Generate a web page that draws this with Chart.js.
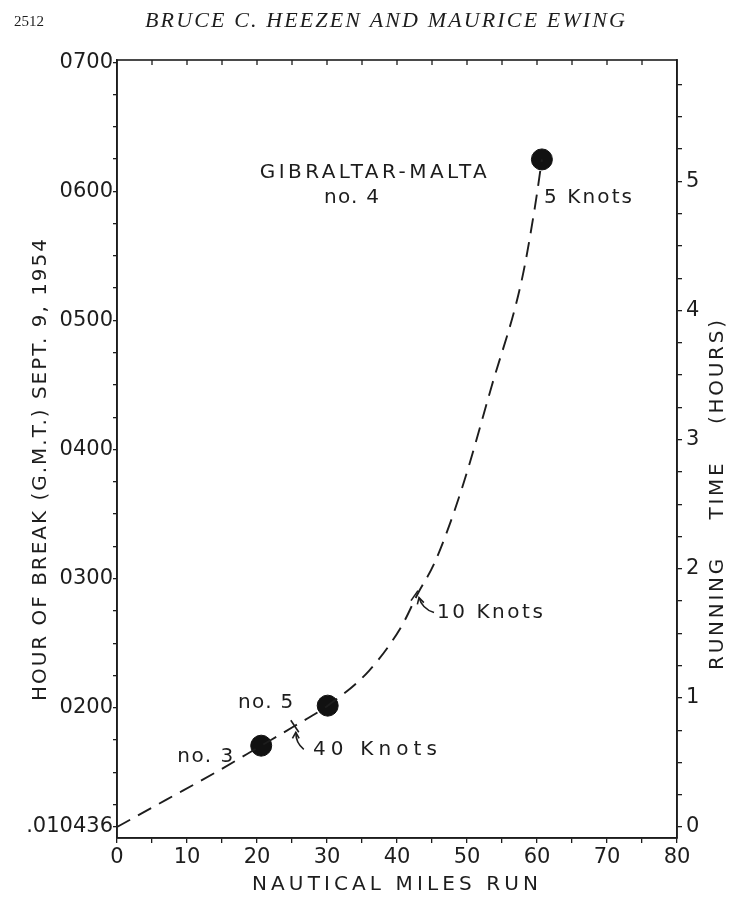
<!DOCTYPE html>
<html>
<head>
<meta charset="utf-8">
<script src="https://cdn.jsdelivr.net/npm/chart.js@4.4.1/dist/chart.umd.min.js"></script>
<style>
  html, body { margin: 0; padding: 0; background: #fff; }
  #wrap { width: 740px; height: 898px; }
</style>
</head>
<body>
<div id="wrap"><canvas id="chart" width="740" height="898"></canvas></div>
<script>
// data: miles run vs running time (hours after .010436 GMT)
const curveMiles = [0, 7, 14, 20.6, 25.3, 30.1, 36, 40.6, 43, 45.4, 49.2, 53.5, 57.8, 59.7, 60.7];
const curveHours = [0, 0.21, 0.42, 0.63, 0.78, 0.94, 1.21, 1.55, 1.81, 2.05, 2.61, 3.41, 4.23, 4.8, 5.17];

const breakNames = ['no. 3', 'no. 5', 'no. 4'];
const breakMiles = [20.6, 30.1, 60.7];
const breakHours = [0.63, 0.94, 5.17];

// tick labels
const xLabels = ['0', '10', '20', '30', '40', '50', '60', '70', '80'];
const leftLabels = ['.010436', '0200', '0300', '0400', '0500', '0600', '0700'];
const rightLabels = ['0', '1', '2', '3', '4', '5'];

// first break at 01h04m36s, so 0200 sits 55m24s above running time 0
const offset = 1 - (4 * 60 + 36) / 3600;

const ink = '#1d1d1d';
const fam = '"DejaVu Sans", sans-serif';

// notes in data coords (m = miles, h = hours), w = width in px
const notes = [
  { text: 'GIBRALTAR-MALTA', m: 36.6, h: 5.07, w: 227, align: 'center' },
  { text: 'no. 4', m: 33.5, h: 4.87, w: 55, align: 'center' },
  { text: '5 Knots', m: 61.0, h: 4.87, w: 88, align: 'left' },
  { text: '10 Knots', m: 45.7, h: 1.66, w: 106, align: 'left' },
  { text: '40 Knots', m: 28.0, h: 0.60, w: 124, align: 'left' },
  { text: breakNames[1], m: 17.3, h: 0.96, w: 55, align: 'left' },
  { text: breakNames[0], m: 8.6, h: 0.54, w: 56, align: 'left' }
];

function near(a, b) { return Math.abs(a - b) < 1e-6; }

function fitText(ctx, str, x, y, width, size, align, family, style) {
  ctx.save();
  ctx.font = (style || '') + ' ' + size + 'px ' + (family || fam);
  ctx.letterSpacing = '0px';
  const raw = ctx.measureText(str).width;
  const sp = str.length > 1 ? (width - raw) / (str.length - 1) : 0;
  ctx.letterSpacing = sp + 'px';
  ctx.textBaseline = 'middle';
  ctx.textAlign = 'left';
  let x0 = x;
  if (align === 'center') x0 = x - width / 2;
  if (align === 'right') x0 = x - width;
  ctx.fillText(str, x0, y);
  ctx.restore();
}

function arrow(ctx, tx, ty, cx, cy, hx, hy) {
  ctx.beginPath();
  ctx.moveTo(tx, ty);
  ctx.quadraticCurveTo(cx, cy, hx, hy);
  ctx.stroke();
  const a = Math.atan2(hy - cy, hx - cx);
  ctx.beginPath();
  ctx.moveTo(hx - 7 * Math.cos(a - 0.5), hy - 7 * Math.sin(a - 0.5));
  ctx.lineTo(hx, hy);
  ctx.lineTo(hx - 7 * Math.cos(a + 0.5), hy - 7 * Math.sin(a + 0.5));
  ctx.stroke();
}

const decor = {
  id: 'decor',
  afterDraw(chart) {
    const ctx = chart.ctx;
    const area = chart.chartArea;
    const xs = chart.scales.x, ys = chart.scales.y;
    ctx.save();
    ctx.fillStyle = ink;
    ctx.strokeStyle = ink;

    // frame + inward ticks on top edge
    ctx.lineWidth = 1.6;
    ctx.strokeRect(area.left, area.top, area.right - area.left, area.bottom - area.top);
    ctx.lineWidth = 1.3;
    for (let m = 5; m < 80; m += 5) {
      const px = xs.getPixelForValue(m);
      ctx.beginPath();
      ctx.moveTo(px, area.top);
      ctx.lineTo(px, area.top + 5);
      ctx.stroke();
    }

    // page header
    fitText(ctx, '2512', 14, 22, 30, 15, 'left', '"Liberation Serif", serif');
    fitText(ctx, 'BRUCE C. HEEZEN AND MAURICE EWING', 385, 21, 480, 22, 'center', '"Liberation Serif", serif', 'italic');

    // axis titles
    fitText(ctx, 'NAUTICAL MILES RUN', 395, 885, 286, 20, 'center');
    ctx.save();
    ctx.translate(41, 470);
    ctx.rotate(-Math.PI / 2);
    fitText(ctx, 'HOUR OF BREAK (G.M.T.) SEPT. 9, 1954', 0, 0, 462, 20, 'center');
    ctx.restore();
    ctx.save();
    ctx.translate(718, 495);
    ctx.rotate(-Math.PI / 2);
    fitText(ctx, 'RUNNING    TIME    (HOURS)', 0, 0, 350, 20, 'center');
    ctx.restore();

    // notes
    notes.forEach(n => {
      fitText(ctx, n.text, xs.getPixelForValue(n.m), ys.getPixelForValue(n.h), n.w, 20, n.align);
    });

    // speed marks across the curve and arrows
    ctx.lineWidth = 1.6;
    const p40 = [xs.getPixelForValue(25.4), ys.getPixelForValue(0.78)];
    ctx.beginPath();
    ctx.moveTo(p40[0] - 4, p40[1] - 6);
    ctx.lineTo(p40[0] + 4, p40[1] + 6);
    ctx.stroke();
    arrow(ctx, p40[0] + 9, p40[1] + 23, p40[0] + 1, p40[1] + 17, p40[0] + 1, p40[1] + 6);

    const p10 = [xs.getPixelForValue(43), ys.getPixelForValue(1.8)];
    ctx.beginPath();
    ctx.moveTo(p10[0] - 7, p10[1] + 6);
    ctx.lineTo(p10[0], p10[1] - 4);
    ctx.stroke();
    arrow(ctx, p10[0] + 16, p10[1] + 18, p10[0] + 4, p10[1] + 14, p10[0] + 1, p10[1] + 3);

    ctx.restore();
  }
};

const leftTicks = [0];
for (let v = offset - 0.75; v <= 5.95; v += 0.25) leftTicks.push(v);
const rightTicks = [];
for (let v = 0; v <= 5.8; v += 0.25) rightTicks.push(v);
const xTicks = [];
for (let v = 0; v <= 80; v += 5) xTicks.push(v);

const yMin = -0.085, yMax = 5.94;

new Chart(document.getElementById('chart'), {
  type: 'scatter',
  data: {
    datasets: [
      {
        label: 'curve',
        data: curveMiles.map((m, i) => ({ x: m, y: curveHours[i] })),
        showLine: true,
        borderColor: ink,
        borderWidth: 1.9,
        borderDash: [15, 9],
        cubicInterpolationMode: 'monotone',
        pointRadius: 0,
        yAxisID: 'y'
      },
      {
        label: 'breaks',
        data: breakMiles.map((m, i) => ({ x: m, y: breakHours[i] })),
        showLine: false,
        pointRadius: 10.5,
        backgroundColor: '#111',
        borderColor: '#111',
        yAxisID: 'y'
      }
    ]
  },
  options: {
    responsive: false,
    animation: false,
    layout: { padding: { top: 60, left: 0, right: 0, bottom: 0 } },
    plugins: { legend: { display: false }, tooltip: { enabled: false } },
    scales: {
      x: {
        type: 'linear', min: 0, max: 80,
        afterBuildTicks: s => { s.ticks = xTicks.map(v => ({ value: v })); },
        afterFit: s => { s.height = 60; },
        ticks: {
          autoSkip: false, maxRotation: 0, padding: 2, color: ink,
          font: { family: fam, size: 21 },
          callback: v => (v % 10 === 0 ? xLabels[v / 10] : '')
        },
        grid: { drawOnChartArea: false, tickLength: 5, color: ink, lineWidth: 1.3 },
        border: { color: ink, width: 1.6 }
      },
      y: {
        type: 'linear', position: 'left', min: yMin, max: yMax,
        afterBuildTicks: s => { s.ticks = leftTicks.map(v => ({ value: v })); },
        afterFit: s => { s.width = 117; },
        ticks: {
          autoSkip: false, padding: 0, color: ink,
          font: { family: fam, size: 21 },
          callback: v => {
            if (near(v, 0)) return leftLabels[0];
            for (let k = 1; k < leftLabels.length; k++) {
              if (near(v, offset + k - 1)) return leftLabels[k];
            }
            return '';
          }
        },
        grid: { drawOnChartArea: false, tickLength: 4, color: ink, lineWidth: 1.3 },
        border: { color: ink, width: 1.6 }
      },
      y2: {
        type: 'linear', position: 'right', min: yMin, max: yMax,
        afterBuildTicks: s => { s.ticks = rightTicks.map(v => ({ value: v })); },
        afterFit: s => { s.width = 63; },
        ticks: {
          autoSkip: false, padding: 4, color: ink,
          font: { family: fam, size: 21 },
          callback: v => (near(v, Math.round(v)) ? rightLabels[Math.round(v)] : '')
        },
        grid: { drawOnChartArea: false, tickLength: 5, color: ink, lineWidth: 1.3 },
        border: { color: ink, width: 1.6 }
      }
    }
  },
  plugins: [decor]
});
</script>
</body>
</html>
